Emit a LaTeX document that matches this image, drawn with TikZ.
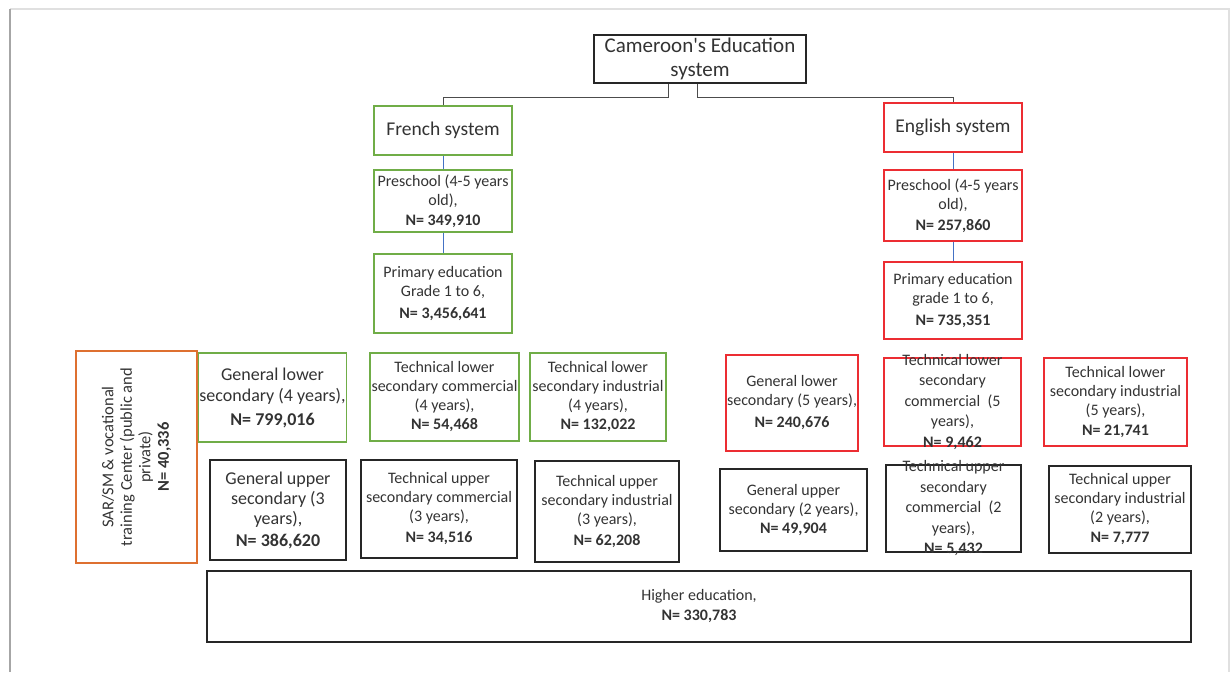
\documentclass[tikz,border=0pt]{standalone}
\usepackage{fontspec}
\setmainfont{Carlito}
\usepackage{tikz}
\definecolor{frgreen}{RGB}{112,173,71}
\definecolor{enred}{RGB}{236,45,50}
\definecolor{sarorange}{RGB}{222,112,48}
\definecolor{linkblue}{RGB}{68,114,196}

\begin{document}
\begin{tikzpicture}[x=1pt,y=-1pt,
  box/.style={draw, line width=1.2pt, align=center, inner sep=1pt, text=black!80,
    font=\fontsize{16}{19}\selectfont},
  frbox/.style={box, draw=frgreen},
  enbox/.style={box, draw=enred},
  upbox/.style={box, draw=black!85},
  tight/.style={inner ysep=-8pt, font=\fontsize{16}{20.5}\selectfont},
  link/.style={draw=black!70, line width=1pt},
  blue link/.style={draw=linkblue, line width=1pt}]
  \useasboundingbox (0,0) rectangle (1231,672);
  % page frame
  \draw[black!12, line width=2pt] (10,9) -- (1229,9) -- (1229,672);
  \draw[black!35, line width=1.5pt] (10,672) -- (10,9);
  %
  \node[upbox, minimum width=212, minimum height=48, font=\fontsize{21}{24}\selectfont] (top) at (700,59)
    {Cameroon\textquotesingle s Education\\system};
  \node[frbox, minimum width=138, minimum height=49, font=\fontsize{19.5}{23}\selectfont] (fr) at (443,130.5) {French system};
  \node[enbox, minimum width=138, minimum height=49, font=\fontsize{19.5}{23}\selectfont] (en) at (953,127.5) {English system};
  \draw[link] ([xshift=-32pt]top.south) -- ++(0,14) -| (fr.north);
  \draw[link] ([xshift=-3pt]top.south) -- ++(0,14) -| (en.north);
  %
  \node[frbox, minimum width=138, minimum height=62] (frpre) at (443,201)
    {Preschool (4-5 years\\old),\\[1pt]\textbf{N= 349,910}};
  \node[frbox, minimum width=138, minimum height=79] (frprim) at (443,293.5)
    {Primary education\\Grade 1 to 6,\\[3pt]\textbf{N= 3,456,641}};
  \node[enbox, minimum width=138, minimum height=71] (enpre) at (953,205.5)
    {Preschool (4-5 years\\old),\\[2pt]\textbf{N= 257,860}};
  \node[enbox, minimum width=138, minimum height=77] (enprim) at (953,300.5)
    {Primary education\\grade 1 to 6,\\[3pt]\textbf{N= 735,351}};
  \draw[blue link] (fr) -- (frpre);
  \draw[blue link] (frpre) -- (frprim);
  \draw[blue link] (en) -- (enpre);
  \draw[blue link] (enpre) -- (enprim);
  %
  \node[box, draw=sarorange, rotate=90, minimum width=212, minimum height=121,
    font=\fontsize{16.5}{18.5}\selectfont] (sar) at (136.5,457)
    {SAR/SM \& vocational\\training Center (public and\\private)\\\textbf{N= 40,336}};
  %
  \node[frbox, minimum width=147, minimum height=89, font=\fontsize{18}{21}\selectfont] (frgl) at (272.5,397.5)
    {General lower\\secondary (4 years),\\[3pt]\textbf{N= 799,016}};
  \node[frbox, minimum width=149, minimum height=88] (frtlc) at (444.5,397)
    {Technical lower\\secondary commercial\\(4 years),\\\textbf{N= 54,468}};
  \node[frbox, minimum width=136, minimum height=88] (frtli) at (598,397)
    {Technical lower\\secondary industrial\\(4 years),\\\textbf{N= 132,022}};
  \node[upbox, minimum width=136, minimum height=100, font=\fontsize{18}{20}\selectfont] (frgu) at (278,510)
    {General upper\\secondary (3\\years),\\[2pt]\textbf{N= 386,620}};
  \node[upbox, minimum width=156, minimum height=98] (frtuc) at (439,509)
    {Technical upper\\secondary commercial\\(3 years),\\[2pt]\textbf{N= 34,516}};
  \node[upbox, minimum width=144, minimum height=101] (frtui) at (607,511.5)
    {Technical upper\\secondary industrial\\(3 years),\\[2pt]\textbf{N= 62,208}};
  %
  \node[enbox, minimum width=132, minimum height=96] (engl) at (792,403)
    {General lower\\secondary (5 years),\\[3pt]\textbf{N= 240,676}};
  \node[enbox, tight, minimum width=137, minimum height=88] (entlc) at (952.5,402)
    {Technical lower\\secondary\\commercial~ (5\\years),\\\textbf{N= 9,462}};
  \node[enbox, minimum width=143, minimum height=88] (entli) at (1115.5,402)
    {Technical lower\\secondary industrial\\(5 years),\\[1pt]\textbf{N= 21,741}};
  \node[upbox, minimum width=147, minimum height=82] (engu) at (793.5,510)
    {General upper\\secondary (2 years),\\\textbf{N= 49,904}};
  \node[upbox, tight, minimum width=135, minimum height=87] (entuc) at (953.5,508.5)
    {Technical upper\\secondary\\commercial~ (2\\years),\\\textbf{N= 5,432}};
  \node[upbox, minimum width=142, minimum height=87] (entui) at (1120,509.5)
    {Technical upper\\secondary industrial\\(2 years),\\[1pt]\textbf{N= 7,777}};
  %
  \node[upbox, minimum width=984, minimum height=71, font=\fontsize{16}{20}\selectfont] (higher) at (699,606.5)
    {Higher education,\\\textbf{N= 330,783}};
\end{tikzpicture}
\end{document}
